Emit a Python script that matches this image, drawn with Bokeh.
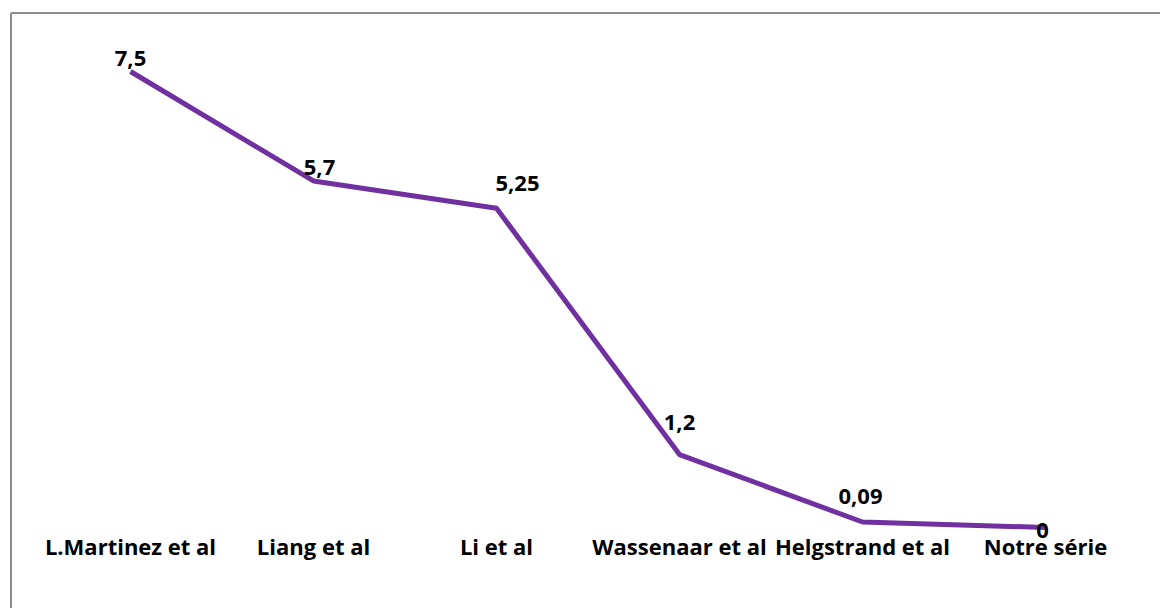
from bokeh.plotting import figure
from bokeh.models import ColumnDataSource, Range1d
from bokeh.core.properties import value
from bokeh.embed import file_html
from bokeh.resources import INLINE

# Series data
categories = ["L.Martinez et al", "Liang et al", "Li et al",
              "Wassenaar et al", "Helgstrand et al", "Notre série"]
values = [7.5, 5.7, 5.25, 1.2, 0.09, 0]

# Data label offsets in screen pixels (dx, dy; dy positive = down)
label_dx = [0, 6, 21, 0, -2, -3]
label_dy = [-13, -13, -25, -32, -26, 3]

W, H = 1160, 608
PX_X = 183.0   # pixels per category step
PX_Y = 60.8    # pixels per value unit
x0 = -130.0 / PX_X
y0 = -81.0 / PX_Y
x_range = Range1d(x0, x0 + W / PX_X)
y_range = Range1d(y0, y0 + H / PX_Y)

p = figure(width=W, height=H, x_range=x_range, y_range=y_range,
           output_backend="svg", toolbar_location=None,
           min_border=0, min_border_left=0, min_border_right=0,
           min_border_top=0, min_border_bottom=0)
p.axis.visible = False
p.grid.visible = False
p.outline_line_color = None
p.background_fill_color = "white"
p.border_fill_color = "white"

xs = list(range(len(categories)))
texts = [f"{v:g}".replace(".", ",") for v in values]
src = ColumnDataSource(dict(x=xs, y=values, label=texts, cat=categories,
                            dx=label_dx, dy=label_dy, zero=[0] * len(xs)))

# Chart border (top and left edges only; the rest runs off the canvas)
left_edge = x0 + 10.5 / PX_X
top_edge = y_range.end - 12.5 / PX_Y
p.segment(x0=[left_edge, left_edge], y0=[y_range.start - 1, top_edge],
          x1=[left_edge, x_range.end + 1], y1=[top_edge, top_edge],
          line_color="#8c8c8c", line_width=2)

p.line("x", "y", source=src, line_color="#7030A0", line_width=5,
       line_join="round")

p.text("x", "y", text="label", source=src, x_offset="dx", y_offset="dy",
       text_align="center", text_baseline="middle",
       text_font=value("Open Sans"), text_font_style="bold",
       text_font_size="22px", text_color="black")

p.text("x", "zero", text="cat", source=src, y_offset=18,
       text_align="center", text_baseline="middle",
       text_font=value("Open Sans"), text_font_style="bold",
       text_font_size="22px", text_color="black")

open("out.html", "w").write(file_html(p, INLINE))
